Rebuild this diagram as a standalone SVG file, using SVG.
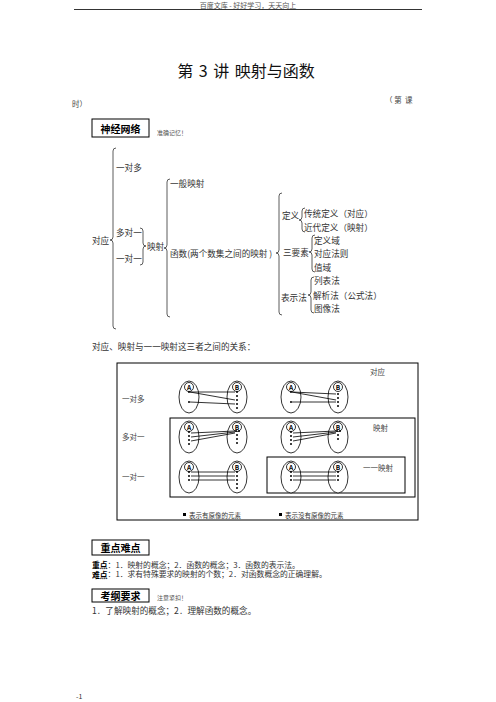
<svg xmlns="http://www.w3.org/2000/svg" width="496" height="702" viewBox="0 0 496 702">
<style>
text{font-family:"Noto Sans CJK SC","Liberation Sans",sans-serif;fill:#222;dominant-baseline:central}
.t{font-size:8.6px;fill:#333}
.p{font-size:7.8px;fill:#333}
.s{font-size:7.5px;fill:#444}
.b{font-weight:bold;font-size:10px;fill:#000}
.br{fill:none;stroke:#333;stroke-width:0.8}
.box{fill:none;stroke:#000;stroke-width:1}
.el{fill:#fff;stroke:#000;stroke-width:0.8}
.ln{stroke:#000;stroke-width:0.8;fill:none}
.lt{font-size:6.5px;font-weight:bold;fill:#000;text-anchor:middle}
</style>
<rect width="496" height="702" fill="#fff"/>
<g id="header">
<text x="248" y="5" style="font-size:7px;fill:#555" text-anchor="middle">百度文库 - 好好学习，天天向上</text>
<line x1="74" y1="9.5" x2="422" y2="9.5" stroke="#000" stroke-width="0.8"/>
</g>
<g id="title">
<text x="246" y="70" style="font-size:16px;fill:#111;word-spacing:2px" text-anchor="middle">第&#160;3&#160;讲&#160;映射与函数</text>
<text x="385" y="99" class="s">（&#160;第&#160;&#160;课</text>
<text x="72" y="103" class="s">时）</text>
</g>
<g id="box-shenjing">
<rect x="92" y="119" width="57" height="18" class="box"/>
<text x="120.5" y="128" class="b" text-anchor="middle">神经网络</text>
<text x="157" y="132" style="font-size:6px;fill:#555">准确记忆！</text>
</g>
<g id="tree-brackets">
<path class="br" d="M116 148 Q113 148 113 151 L113 237 Q113 240 110 240 Q113 240 113 243 L113 326 Q113 329 116 329"/>
<path class="br" d="M140 228 Q143 228 143 231 L143 243 Q143 246 146 246 Q143 246 143 249 L143 262 Q143 265 140 265"/>
<path class="br" d="M170 179 Q167 179 167 182 L167 245 Q167 248 164 248 Q167 248 167 251 L167 314 Q167 317 170 317"/>
<path class="br" d="M282 193 Q279 193 279 196 L279 250 Q279 253 276 253 Q279 253 279 256 L279 312 Q279 315 282 315"/>
<path class="br" d="M305 208 Q302 208 302 211 L302 217 Q302 220 299 220 Q302 220 302 223 L302 229 Q302 232 305 232"/>
<path class="br" d="M315 235 Q312 235 312 238 L312 249 Q312 252 309 252 Q312 252 312 255 L312 269 Q312 272 315 272"/>
<path class="br" d="M314 277 Q311 277 311 280 L311 292 Q311 295 308 295 Q311 295 311 298 L311 310 Q311 313 314 313"/>
</g>
<g id="tree-text">
<text x="92" y="240" class="t">对应</text>
<text x="116" y="167" class="t">一对多</text>
<text x="116" y="232" class="t">多对一</text>
<text x="116" y="258" class="t">一对一</text>
<text x="147" y="246" class="t">映射</text>
<text x="170" y="183" class="t">一般映射</text>
<text x="170" y="253" class="t">函数(两个数集之间的映射 )</text>
<text x="282" y="215" class="t">定义</text>
<text x="304" y="213" class="t">传统定义（对应）</text>
<text x="304" y="227" class="t">近代定义（映射）</text>
<text x="283" y="252" class="t">三要素</text>
<text x="314" y="240" class="t">定义域</text>
<text x="314" y="253" class="t">对应法则</text>
<text x="314" y="267" class="t">值域</text>
<text x="281" y="297" class="t">表示法</text>
<text x="314" y="280" class="t">列表法</text>
<text x="313" y="295" class="t">解析法（公式法）</text>
<text x="314" y="308" class="t">图像法</text>
</g>
<text x="92" y="346" class="t">对应、映射与一一映射这三者之间的关系：</text>
<defs>
<g id="ellA"><ellipse cx="0" cy="0" rx="10" ry="16" class="el"/><circle cx="0" cy="-10" r="4.5" class="el"/><text x="0" y="-10" class="lt">A</text></g>
<g id="ellB"><ellipse cx="0" cy="0" rx="10" ry="16" class="el"/><circle cx="0" cy="-10" r="4.5" class="el"/><text x="0" y="-10" class="lt">B</text></g>
</defs>
<g id="relation-boxes">
<rect x="117" y="363" width="301" height="157" class="box"/>
<rect x="170" y="418" width="245" height="79" class="box"/>
<rect x="267" y="457" width="138" height="36" class="box"/>
<text x="370" y="371" class="s">对应</text>
<text x="373" y="427" class="s">映射</text>
<text x="363" y="467" class="s">一一映射</text>
<text x="122" y="398" class="s">一对多</text>
<text x="122" y="436" class="s">多对一</text>
<text x="122" y="476" class="s">一对一</text>
</g>
<g id="sets">
<use href="#ellA" x="189" y="397"/><use href="#ellB" x="237" y="397"/>
<use href="#ellA" x="291" y="397"/><use href="#ellB" x="338" y="397"/>
<use href="#ellA" x="189" y="437"/><use href="#ellB" x="237" y="437"/>
<use href="#ellA" x="291" y="437"/><use href="#ellB" x="338" y="437"/>
<use href="#ellA" x="189" y="477"/><use href="#ellB" x="237" y="477"/>
<use href="#ellA" x="291" y="477"/><use href="#ellB" x="338" y="477"/>
</g>
<g id="dots" fill="#000">
<circle cx="189" cy="392" r="1"/><circle cx="189" cy="402" r="1"/>
<circle cx="237" cy="392" r="1"/><circle cx="237" cy="396" r="1"/><circle cx="237" cy="400" r="1"/><circle cx="237" cy="404" r="1"/><circle cx="237" cy="408" r="1"/>
<circle cx="291" cy="392" r="1"/><circle cx="291" cy="402" r="1"/>
<circle cx="338" cy="394" r="1"/><circle cx="338" cy="398" r="1"/><circle cx="338" cy="402" r="1"/><circle cx="338" cy="406" r="1"/>
<circle cx="189" cy="432" r="1"/><circle cx="189" cy="436" r="1"/><circle cx="189" cy="440" r="1"/><circle cx="189" cy="444" r="1"/>
<circle cx="236" cy="431" r="1"/><circle cx="239" cy="431" r="1"/><circle cx="237" cy="435" r="1"/><circle cx="237" cy="439" r="1"/><circle cx="237" cy="443" r="1"/>
<circle cx="291" cy="432" r="1"/><circle cx="291" cy="436" r="1"/><circle cx="291" cy="440" r="1"/><circle cx="291" cy="444" r="1"/>
<circle cx="337" cy="431" r="1"/><circle cx="340" cy="431" r="1"/><circle cx="338" cy="435" r="1"/><circle cx="338" cy="439" r="1"/>
<circle cx="189" cy="472" r="1"/><circle cx="189" cy="476" r="1"/><circle cx="189" cy="480" r="1"/>
<circle cx="237" cy="472" r="1"/><circle cx="237" cy="476" r="1"/><circle cx="237" cy="480" r="1"/><circle cx="237" cy="484" r="1"/><circle cx="237" cy="488" r="1"/>
<circle cx="291" cy="472" r="1"/><circle cx="291" cy="476" r="1"/><circle cx="291" cy="480" r="1"/>
<circle cx="338" cy="472" r="1"/><circle cx="338" cy="476" r="1"/><circle cx="338" cy="480" r="1"/>
</g>
<g id="connectors" class="ln">
<line x1="190" y1="392" x2="235" y2="392"/><line x1="190" y1="392" x2="235" y2="400"/><line x1="190" y1="402" x2="235" y2="404"/>
<line x1="292" y1="392" x2="336" y2="394"/><line x1="292" y1="392" x2="336" y2="400"/><line x1="292" y1="402" x2="336" y2="402"/>
<line x1="191" y1="433" x2="235" y2="431"/><line x1="191" y1="437" x2="235" y2="432"/><line x1="191" y1="441" x2="235" y2="433"/>
<line x1="293" y1="433" x2="336" y2="431"/><line x1="293" y1="437" x2="336" y2="432"/><line x1="293" y1="441" x2="336" y2="433"/>
<line x1="191" y1="472" x2="235" y2="472"/><line x1="191" y1="476" x2="235" y2="476"/><line x1="191" y1="480" x2="235" y2="480"/>
<line x1="293" y1="472" x2="336" y2="472"/><line x1="293" y1="476" x2="336" y2="476"/><line x1="293" y1="480" x2="336" y2="480"/>
</g>
<g id="legend">
<rect x="183" y="513" width="3" height="3" fill="#000"/>
<text x="189" y="514.5" style="font-size:6.5px;fill:#333">表示有原像的元素</text>
<rect x="279" y="513" width="3" height="3" fill="#000"/>
<text x="285" y="514.5" style="font-size:6.5px;fill:#333">表示没有原像的元素</text>
</g>
<g id="box-zhongdian">
<rect x="92" y="540" width="57" height="15" class="box"/>
<text x="120.5" y="547.5" class="b" text-anchor="middle">重点难点</text>
<text x="92" y="564" class="p"><tspan font-weight="bold" fill="#000">重点</tspan>：1．映射的概念；2．函数的概念；3．函数的表示法。</text>
<text x="92" y="573.5" class="p"><tspan font-weight="bold" fill="#000">难点</tspan>：1．求有特殊要求的映射的个数；2．对函数概念的正确理解。</text>
</g>
<g id="box-kaogang">
<rect x="92" y="589" width="57" height="13" class="box"/>
<text x="120.5" y="595.5" class="b" text-anchor="middle">考纲要求</text>
<text x="157" y="597" style="font-size:6px;fill:#555">注意紧扣！</text>
<text x="92" y="610" class="t">1．了解映射的概念；2．理解函数的概念。</text>
</g>
<text x="76" y="696" style="font-size:7px;fill:#333">-1</text>
</svg>
